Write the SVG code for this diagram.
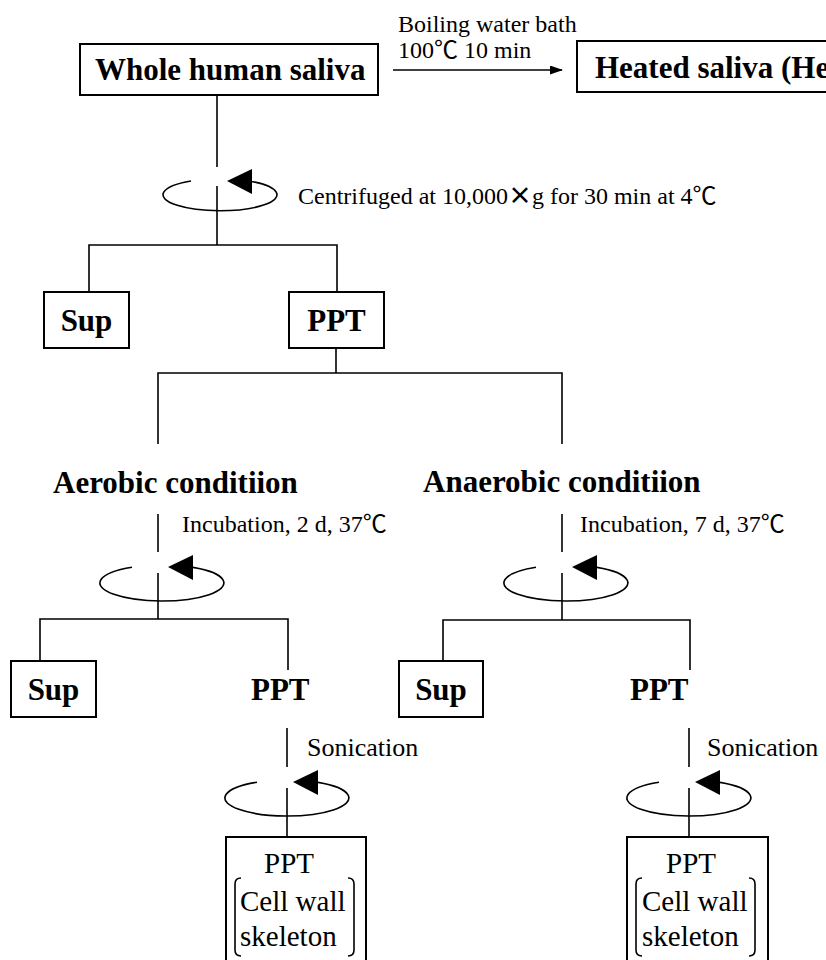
<svg xmlns="http://www.w3.org/2000/svg" width="826" height="960" viewBox="0 0 826 960">
<style>
.box{fill:#fff;stroke:#000;stroke-width:2}
.ln{fill:none;stroke:#000;stroke-width:1.6}
.b{font-family:"Liberation Serif","Noto Sans CJK JP",serif;font-weight:bold;font-size:31px;fill:#000}
.t{font-family:"Liberation Serif","Noto Sans CJK JP",serif;font-size:24px;fill:#000}
.s{font-family:"Liberation Serif","Noto Sans CJK JP",serif;font-size:26px;fill:#000}
.r{font-family:"Liberation Serif","Noto Sans CJK JP",serif;font-size:29px;fill:#000}
.cjk{font-family:"Noto Sans CJK JP",sans-serif;font-weight:bold}
.ar{fill:#000}
</style>
<defs>
<marker id="ah" markerWidth="13" markerHeight="9" refX="12" refY="4.5" orient="auto" markerUnits="userSpaceOnUse">
<path d="M0,0 L13,4.5 L0,9 Z" fill="#000"/>
</marker>
<g id="rot">
<path class="ln" d="M31,-15.6 A62 18 0 1 1 -30,-15.8"/>
<path class="ar" d="M6,-16 L31,-28 L31,-3 Z"/>
</g>
<g id="rot2">
<path class="ln" d="M30,-14 A57 16 0 1 1 -28,-14"/>
<path class="ar" d="M8,-14 L33,-26 L33,-1 Z"/>
</g>
</defs>

<g id="connectors">
<line class="ln" x1="393" y1="70" x2="562" y2="70" marker-end="url(#ah)"/>
<!-- top -->
<line class="ln" x1="217" y1="95" x2="217" y2="167"/>
<line class="ln" x1="217" y1="186" x2="217" y2="245"/>
<polyline class="ln" points="89,292 89,245 337,245 337,292"/>
<use href="#rot2" x="219" y="195"/>
<line class="ln" x1="336" y1="348" x2="336" y2="373"/>
<polyline class="ln" points="158,444 158,373 562,373 562,444"/>
<!-- middle left -->
<line class="ln" x1="158" y1="514" x2="158" y2="552"/>
<line class="ln" x1="158" y1="573" x2="158" y2="619"/>
<use href="#rot" x="162" y="583"/>
<polyline class="ln" points="40,661 40,619 288,619 288,670"/>
<!-- middle right -->
<line class="ln" x1="562" y1="514" x2="562" y2="552"/>
<line class="ln" x1="562" y1="573" x2="562" y2="620"/>
<use href="#rot" x="566" y="583"/>
<polyline class="ln" points="443,661 443,620 690,620 690,670"/>
<!-- bottom left -->
<line class="ln" x1="287" y1="728" x2="287" y2="767"/>
<line class="ln" x1="287" y1="788" x2="287" y2="837"/>
<use href="#rot" x="287" y="798"/>
<!-- bottom right -->
<line class="ln" x1="689" y1="728" x2="689" y2="767"/>
<line class="ln" x1="689" y1="788" x2="689" y2="837"/>
<use href="#rot" x="689" y="798"/>
</g>

<g id="whole">
<rect class="box" x="80" y="44" width="298" height="51"/>
<text class="b" x="95" y="80">Whole human saliva</text>
</g>
<g id="heatlabel">
<text class="t" x="398" y="32">Boiling water bath</text>
<text class="t" x="398" y="58">100℃ 10 min</text>
</g>
<g id="heated">
<rect class="box" x="577" y="41" width="300" height="51"/>
<text class="b" x="595" y="78">Heated saliva (He</text>
</g>
<g id="centlabel">
<text class="t" x="298" y="204">Centrifuged at 10,000<tspan class="cjk">×</tspan>g for 30 min at 4℃</text>
</g>
<g id="sup1">
<rect class="box" x="44" y="292" width="85" height="56"/>
<text class="b" x="86.5" y="331" text-anchor="middle">Sup</text>
</g>
<g id="ppt1">
<rect class="box" x="289" y="292" width="95" height="56"/>
<text class="b" x="336.5" y="331" text-anchor="middle">PPT</text>
</g>
<g id="aerobic">
<text class="b" x="53" y="493">Aerobic conditiion</text>
<text class="t" x="182" y="532">Incubation, 2 d, 37℃</text>
</g>
<g id="anaerobic">
<text class="b" x="423" y="492">Anaerobic conditiion</text>
<text class="t" x="580" y="532">Incubation, 7 d, 37℃</text>
</g>
<g id="sup2">
<rect class="box" x="11" y="661" width="85" height="56"/>
<text class="b" x="53.5" y="700" text-anchor="middle">Sup</text>
</g>
<g id="ppt2">
<text class="b" x="251" y="700">PPT</text>
<text class="s" x="307" y="756">Sonication</text>
</g>
<g id="sup3">
<rect class="box" x="399" y="661" width="84" height="56"/>
<text class="b" x="441" y="700" text-anchor="middle">Sup</text>
</g>
<g id="ppt3">
<text class="b" x="630" y="700">PPT</text>
<text class="s" x="707" y="756">Sonication</text>
</g>
<g id="wall1">
<rect class="box" x="226" y="837" width="140" height="140"/>
<text class="r" x="289" y="873" text-anchor="middle">PPT</text>
<path class="ln" d="M241,878 Q235,878 235,884 L235,950 Q235,956 241,956"/>
<path class="ln" d="M348,878 Q354,878 354,884 L354,950 Q354,956 348,956"/>
<text class="r" x="240" y="911">Cell wall</text>
<text class="r" x="240" y="946">skeleton</text>
</g>
<g id="wall2">
<rect class="box" x="627" y="837" width="141" height="140"/>
<text class="r" x="691" y="873" text-anchor="middle">PPT</text>
<path class="ln" d="M642,878 Q636,878 636,884 L636,950 Q636,956 642,956"/>
<path class="ln" d="M749,878 Q755,878 755,884 L755,950 Q755,956 749,956"/>
<text class="r" x="642" y="911">Cell wall</text>
<text class="r" x="642" y="946">skeleton</text>
</g>
</svg>
